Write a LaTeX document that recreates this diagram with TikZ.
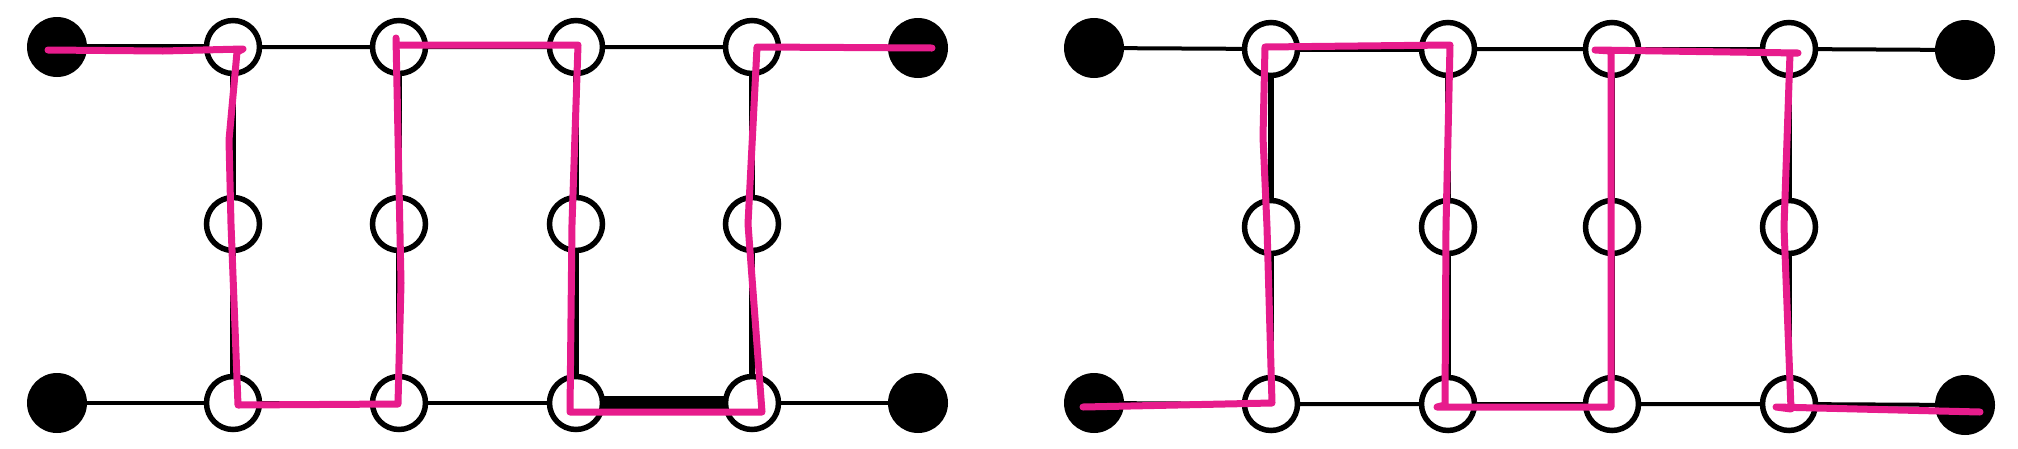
\documentclass[tikz,border=0pt]{standalone}
\definecolor{pathpink}{RGB}{231,28,140}
\begin{document}
\begin{tikzpicture}[x=1pt,y=-1pt,
  hollow/.style={circle,draw=black,fill=white,line width=5.5pt,minimum size=53pt,inner sep=0pt},
  solid/.style={circle,fill=black,minimum size=60pt,inner sep=0pt},
  edge/.style={draw=black,line width=4pt},
  edgemid/.style={draw=black,line width=6.5pt},
  edgethick/.style={draw=black,line width=15pt},
  route/.style={draw=pathpink,line width=7pt,line cap=round,line join=round}]
\useasboundingbox (0,0) rectangle (2018,448);
% ---------- positions ----------
\foreach \n/\x in {1/233,2/399,3/576,4/752}{
  \coordinate (pL\n t) at (\x,47);
  \coordinate (pL\n m) at (\x,224);
  \coordinate (pL\n b) at (\x,403);
}
\foreach \n/\x in {1/1271,2/1448,3/1612,4/1789}{
  \coordinate (pR\n t) at (\x,49);
  \coordinate (pR\n m) at (\x,227);
  \coordinate (pR\n b) at (\x,404);
}
% ---------- edges ----------
\draw[edgemid] (57,47) coordinate (pL0t) -- (pL1t);
\draw[edge] (pL1t) -- (pL2t) -- (pL3t) -- (pL4t) -- (918,48) coordinate (pL5t);
\draw[edge] (57,403) coordinate (pL0b) -- (pL1b) -- (pL2b) -- (pL3b);
\draw[edge] (pL4b) -- (918,403) coordinate (pL5b);
\draw[edgethick] (pL3b) -- (pL4b);
\foreach \n in {1,2,3,4}{\draw[edgemid] (pL\n t) -- (pL\n m) -- (pL\n b);}
\draw[edge] (1094,48) coordinate (pR0t) -- (pR1t);
\draw[edgemid] (pR1t) -- (pR2t);
\draw[edge] (pR2t) -- (pR3t) -- (pR4t) -- (1965,50) coordinate (pR5t);
\draw[edge] (1094,403) coordinate (pR0b) -- (pR1b) -- (pR2b) -- (pR3b) -- (pR4b) -- (1965,405) coordinate (pR5b);
\foreach \n in {1,2,3,4}{\draw[edgemid] (pR\n t) -- (pR\n m) -- (pR\n b);}
% ---------- nodes ----------
\foreach \s in {L,R}{
  \foreach \n in {1,2,3,4}{
    \foreach \r in {t,m,b}{\node[hollow] (\s\n\r) at (p\s\n\r) {};}
  }
  \foreach \n in {0,5}{
    \foreach \r in {t,b}{\node[solid] (\s\n\r) at (p\s\n\r) {};}
  }
}
% ---------- left route ----------
\draw[route] ([shift={(-9,3)}]L0t.center)
  -- ([shift={(-70,4)}]L1t.center)
  -- ([shift={(10,2)}]L1t.center)
  -- ([shift={(4,5)}]L1t.center)
  -- ([shift={(-4,93)}]L1t.center)
  -- ([shift={(-2,0)}]L1m.center)
  -- ([shift={(5,2)}]L1b.center)
  -- ([shift={(-1,1)}]L2b.center)
  -- ([shift={(2,-120)}]L2b.center)
  -- ([shift={(-3,-9)}]L2t.center)
  -- ([shift={(-3,-2)}]L2t.center)
  -- ([shift={(2,-2)}]L3t.center)
  -- ([shift={(-4,0)}]L3m.center)
  -- ([shift={(-6,9)}]L3b.center)
  -- ([shift={(10,9)}]L4b.center)
  -- ([shift={(-4,0)}]L4m.center)
  -- ([shift={(5,0)}]L4t.center)
  -- ([shift={(14,0)}]L5t.center);
% ---------- right route ----------
\draw[route] ([shift={(-11,4)}]R0b.center)
  -- ([shift={(1,-1)}]R1b.center)
  -- ([shift={(-4,0)}]R1m.center)
  -- ([shift={(-8,-90)}]R1m.center)
  -- ([shift={(-6,-2)}]R1t.center)
  -- ([shift={(2,-4)}]R2t.center)
  -- ([shift={(-2,0)}]R2m.center)
  -- ([shift={(-3,1)}]R2b.center)
  -- ([shift={(-11,3)}]R2b.center)
  -- ([shift={(-1,3)}]R3b.center)
  -- ([shift={(-1,2)}]R3t.center)
  -- ([shift={(-17,1)}]R3t.center)
  -- ([shift={(9,4)}]R4t.center)
  -- ([shift={(1,4)}]R4t.center)
  -- ([shift={(-5,0)}]R4m.center)
  -- ([shift={(2,5)}]R4b.center)
  -- ([shift={(-13,3)}]R4b.center)
  -- ([shift={(15,7)}]R5b.center);
\end{tikzpicture}
\end{document}
